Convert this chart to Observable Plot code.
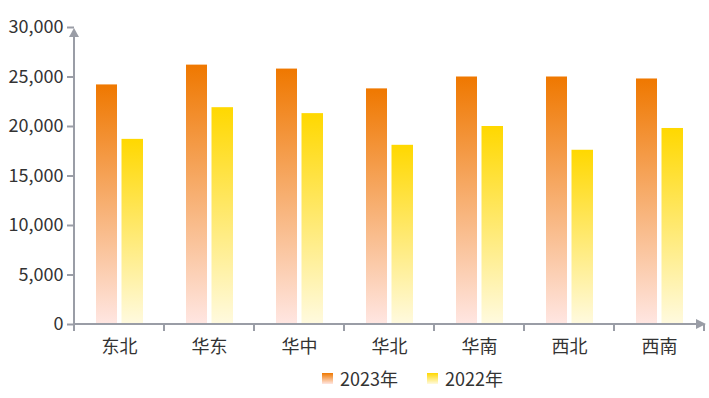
<!DOCTYPE html>
<html>
<head>
<meta charset="utf-8">
<script src="https://cdn.jsdelivr.net/npm/d3@7"></script>
<script src="https://cdn.jsdelivr.net/npm/@observablehq/plot@0.6"></script>
<style>
  html, body { margin: 0; padding: 0; background: #fff; }
  body { font-family: "Noto Sans CJK SC", "Noto Sans", sans-serif; color: #333; width: 709px; }
  #legend { display: flex; align-items: center; height: 36px; padding-left: 322px; font-size: 18px; }
  .item { display: flex; align-items: center; margin-right: 29px; }
  .sw { width: 11px; height: 11px; margin-right: 7px; }
</style>
</head>
<body>
<div id="chart"></div>
<div id="legend"></div>
<script>
const categories = ["东北", "华东", "华中", "华北", "华南", "西北", "西南"];
const values2023 = [24200, 26200, 25800, 23800, 25000, 25000, 24800];
const values2022 = [18700, 21900, 21300, 18100, 20000, 17600, 19800];
const seriesNames = ["2023年", "2022年"];
const yTicks = [0, 5000, 10000, 15000, 20000, 25000, 30000];

const gradColors = {
  g2023: ["#ef7800", "#ffe6e2"],
  g2022: ["#ffd800", "#fffadf"]
};
const axisColor = "#9a9da6";
const textColor = "#333333";

const data2023 = categories.map((c, i) => ({category: c, value: values2023[i], series: seriesNames[0]}));
const data2022 = categories.map((c, i) => ({category: c, value: values2022[i], series: seriesNames[1]}));

function gradientDefs() {
  const g = d3.create("svg:defs");
  for (const [id, [top, bottom]] of Object.entries(gradColors)) {
    const lg = g.append("linearGradient").attr("id", id)
      .attr("x1", 0).attr("y1", 0).attr("x2", 0).attr("y2", 1);
    lg.append("stop").attr("offset", "0%").attr("stop-color", top);
    lg.append("stop").attr("offset", "100%").attr("stop-color", bottom);
  }
  return g.node();
}

function axisLines(index, scales, values, dimensions) {
  const {x, y} = scales;
  const {width, marginLeft, marginRight} = dimensions;
  const left = marginLeft, right = width - marginRight;
  const y0 = y(0), yTop = y(yTicks[yTicks.length - 1]);
  const bw = x(categories[1]) - x(categories[0]);
  const bounds = categories.map(c => x(c)).concat([x(categories[categories.length - 1]) + bw]);
  const g = d3.create("svg:g").attr("fill", axisColor).attr("stroke", axisColor);
  g.selectAll("line.t").data(bounds).join("line")
    .attr("x1", d => d).attr("x2", d => d)
    .attr("y1", y0).attr("y2", y0 + 7).attr("stroke-width", 2);
  g.append("line").attr("x1", left).attr("x2", left).attr("y1", y0).attr("y2", yTop + 6).attr("stroke-width", 2);
  g.append("line").attr("x1", left).attr("x2", right - 4).attr("y1", y0).attr("y2", y0).attr("stroke-width", 2);
  g.append("path").attr("stroke", "none")
    .attr("d", `M${left},${yTop + 1}L${left - 5},${yTop + 10}L${left + 5},${yTop + 10}Z`);
  g.append("path").attr("stroke", "none")
    .attr("d", `M${right + 2},${y0}L${right - 8},${y0 - 5}L${right - 8},${y0 + 5}Z`);
  return g.node();
}

const chart = Plot.plot({
  width: 709,
  height: 360,
  marginLeft: 74,
  marginRight: 5,
  marginTop: 27,
  marginBottom: 36,
  style: {fontFamily: '"Noto Sans CJK SC", "Noto Sans", sans-serif', fontSize: "18px", color: textColor, background: "#fff"},
  x: {type: "band", domain: categories, padding: 0, axis: null, label: null},
  y: {domain: [0, 30000], axis: null, label: null},
  marks: [
    gradientDefs,
    Plot.barY(data2023, {x: "category", y: "value", fill: "url(#g2023)", insetLeft: 22, insetRight: 47}),
    Plot.barY(data2022, {x: "category", y: "value", fill: "url(#g2022)", insetLeft: 47.5, insetRight: 21}),
    Plot.axisY({ticks: yTicks, tickFormat: d3.format(","), tickSize: 7, tickPadding: 4, stroke: axisColor, strokeWidth: 2, fill: textColor, fontSize: 18, label: null}),
    Plot.axisX({tickSize: 0, tickPadding: 16, fill: textColor, fontSize: 18, label: null}),
    axisLines
  ]
});
document.getElementById("chart").appendChild(chart);

const legend = d3.select("#legend");
const ids = ["g2023", "g2022"];
seriesNames.forEach((name, i) => {
  const [top, bottom] = gradColors[ids[i]];
  const item = legend.append("div").attr("class", "item");
  item.append("div").attr("class", "sw").style("background", `linear-gradient(${top}, ${bottom})`);
  item.append("span").text(name);
});
</script>
</body>
</html>
